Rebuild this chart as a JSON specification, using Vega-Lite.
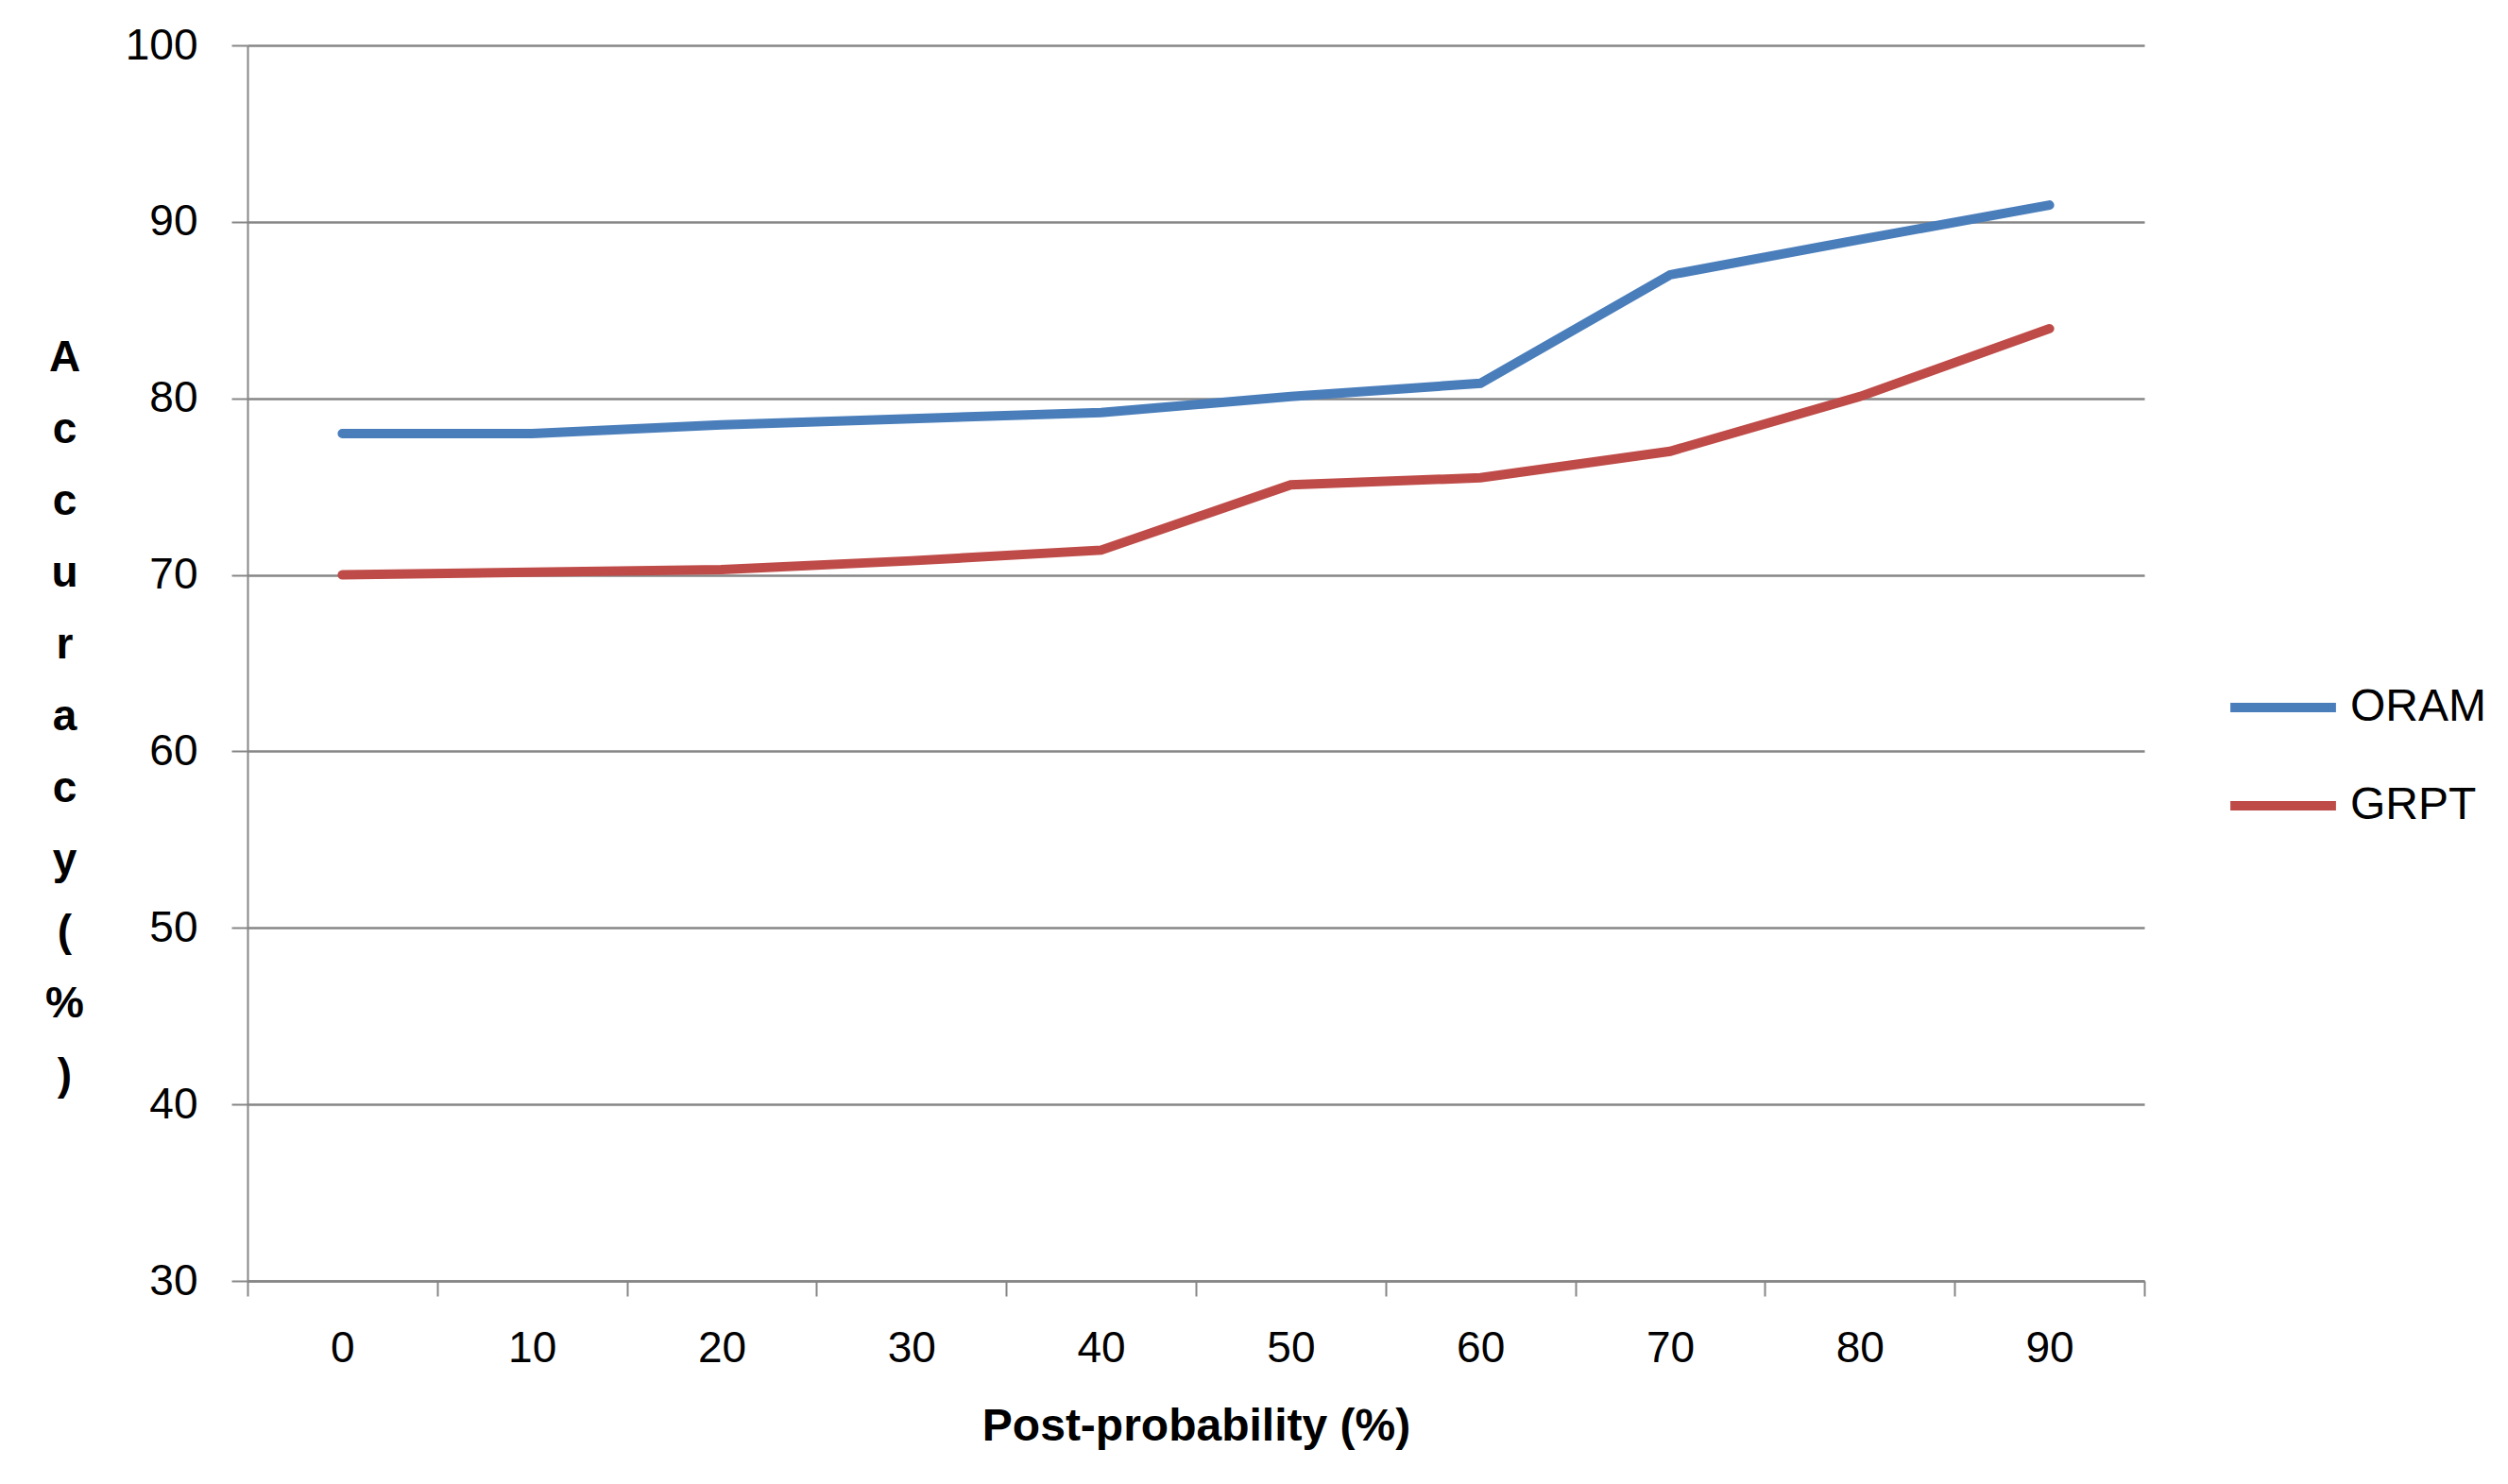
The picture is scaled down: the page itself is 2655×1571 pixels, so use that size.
{
  "$schema": "https://vega.github.io/schema/vega-lite/v6.json",
  "width": 2008,
  "height": 1308,
  "autosize": {"type": "none"},
  "padding": {"left": 262, "top": 48, "right": 385, "bottom": 215},
  "background": "white",
  "data": {
    "values": [
      {"post": "0", "series": "ORAM", "accuracy": 78.0},
      {"post": "10", "series": "ORAM", "accuracy": 78.0},
      {"post": "20", "series": "ORAM", "accuracy": 78.5},
      {"post": "30", "series": "ORAM", "accuracy": 78.85},
      {"post": "40", "series": "ORAM", "accuracy": 79.2},
      {"post": "50", "series": "ORAM", "accuracy": 80.1},
      {"post": "60", "series": "ORAM", "accuracy": 80.85},
      {"post": "70", "series": "ORAM", "accuracy": 87.0},
      {"post": "80", "series": "ORAM", "accuracy": 89.0},
      {"post": "90", "series": "ORAM", "accuracy": 90.95},
      {"post": "0", "series": "GRPT", "accuracy": 70.0},
      {"post": "10", "series": "GRPT", "accuracy": 70.15},
      {"post": "20", "series": "GRPT", "accuracy": 70.3},
      {"post": "30", "series": "GRPT", "accuracy": 70.8},
      {"post": "40", "series": "GRPT", "accuracy": 71.4},
      {"post": "50", "series": "GRPT", "accuracy": 75.1},
      {"post": "60", "series": "GRPT", "accuracy": 75.5},
      {"post": "70", "series": "GRPT", "accuracy": 77.0},
      {"post": "80", "series": "GRPT", "accuracy": 80.1},
      {"post": "90", "series": "GRPT", "accuracy": 83.95}
    ]
  },
  "mark": {"type": "line", "strokeWidth": 10, "strokeCap": "round"},
  "encoding": {
    "x": {
      "field": "post",
      "type": "ordinal",
      "sort": null,
      "bandPosition": 0.5,
      "scale": {"type": "band", "paddingInner": 0, "paddingOuter": 0},
      "axis": {
        "title": "Post-probability (%)",
        "titleFont": "Liberation Sans",
        "titleFontSize": 48,
        "titleFontWeight": "bold",
        "titleColor": "black",
        "titlePadding": 36,
        "labelFont": "Liberation Sans",
        "labelFontSize": 46,
        "labelColor": "black",
        "labelAngle": 0,
        "labelPadding": 33,
        "tickBand": "extent",
        "tickSize": 16,
        "tickWidth": 2,
        "tickColor": "#868686",
        "domainColor": "#868686",
        "domainWidth": 2.5,
        "grid": false
      }
    },
    "y": {
      "field": "accuracy",
      "type": "quantitative",
      "scale": {"domain": [30, 100], "nice": false, "zero": false},
      "axis": {
        "values": [30, 40, 50, 60, 70, 80, 90, 100],
        "title": ["A", "c", "c", "u", "r", "a", "c", "y", "(", "%", ")"],
        "titleAngle": 0,
        "titleAlign": "center",
        "titleBaseline": "top",
        "titleX": -194,
        "titleY": 308,
        "titleLineHeight": 76,
        "titleFont": "Liberation Sans",
        "titleFontSize": 46,
        "titleFontWeight": "bold",
        "titleColor": "black",
        "labelFont": "Liberation Sans",
        "labelFontSize": 46,
        "labelColor": "black",
        "labelPadding": 36,
        "tickSize": 17,
        "tickWidth": 2,
        "tickColor": "#868686",
        "domainColor": "#868686",
        "domainWidth": 2,
        "grid": true,
        "gridColor": "#868686",
        "gridWidth": 2.5
      }
    },
    "color": {
      "field": "series",
      "type": "nominal",
      "sort": ["ORAM", "GRPT"],
      "scale": {"domain": ["ORAM", "GRPT"], "range": ["#4a7ebb", "#be4b48"]},
      "legend": {
        "title": null,
        "orient": "none",
        "legendX": 2094,
        "legendY": 676,
        "symbolType": "stroke",
        "symbolSize": 12500,
        "symbolStrokeWidth": 10,
        "clipHeight": 50,
        "rowPadding": 54,
        "labelOffset": 10,
        "labelFont": "Liberation Sans",
        "labelFontSize": 48,
        "labelColor": "black"
      }
    }
  },
  "config": {"view": {"stroke": null}}
}
